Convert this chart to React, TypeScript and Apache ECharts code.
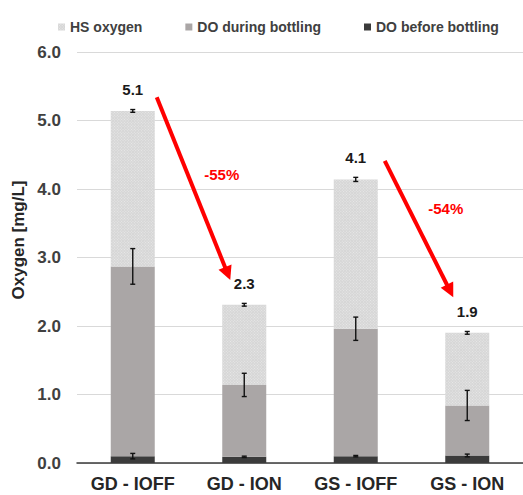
import React, { useEffect, useRef } from 'react';
import * as echarts from 'echarts';

const categories = ['GD - IOFF', 'GD - ION', 'GS - IOFF', 'GS - ION'];
const doBefore = [0.1, 0.09, 0.1, 0.11];
const doDuring = [2.77, 1.05, 1.86, 0.73];
const hsOxygen = [2.27, 1.17, 2.18, 1.06];
const errBefore = [0.04, 0.01, 0.01, 0.02];
const errDuring = [0.26, 0.17, 0.17, 0.22];
const errTotal = [0.02, 0.02, 0.03, 0.02];
const yTicks = [0, 1, 2, 3, 4, 5, 6];
const seriesNames = ['HS oxygen', 'DO during bottling', 'DO before bottling'];
// pairs compared by the red arrows: [from category, to category]
const comparisons = [
  [0, 1],
  [2, 3],
];

const FONT = "'Liberation Sans', Arial, sans-serif";

export default function App() {
  const ref = useRef<HTMLDivElement>(null);

  useEffect(() => {
    if (!ref.current) return;
    const chart = echarts.init(ref.current, undefined, { renderer: 'svg' });

    const topBefore = doBefore.map((v) => v);
    const topDuring = doBefore.map((v, i) => v + doDuring[i]);
    const totals = topDuring.map((v, i) => +(v + hsOxygen[i]).toFixed(2));

    const errData = [
      ...topBefore.map((t, i) => [i, t - errBefore[i], t + errBefore[i]]),
      ...topDuring.map((t, i) => [i, t - errDuring[i], t + errDuring[i]]),
      ...totals.map((t, i) => [i, t - errTotal[i], t + errTotal[i]]),
    ];

    const option: any = {
      animation: false,
      textStyle: { fontFamily: FONT },
      legend: {
        data: seriesNames,
        left: 53,
        top: 15,
        itemWidth: 7,
        itemHeight: 7,
        itemGap: 43,
        icon: 'rect',
        textStyle: { fontFamily: FONT, fontSize: 14, fontWeight: 'bold', color: '#404040' },
      },
      grid: { left: 77, top: 52, width: 448, height: 411 },
      xAxis: {
        type: 'category',
        data: categories,
        axisTick: { show: false },
        axisLine: { lineStyle: { color: '#3a3a3a', width: 1.5 } },
        axisLabel: { margin: 12, fontFamily: FONT, fontSize: 18, fontWeight: 'bold', color: '#262626' },
      },
      yAxis: {
        type: 'value',
        min: yTicks[0],
        max: yTicks[yTicks.length - 1],
        interval: 1,
        axisLabel: {
          margin: 16,
          fontFamily: FONT,
          fontSize: 17,
          fontWeight: 'bold',
          color: '#404040',
          formatter: (v: number) => v.toFixed(1),
        },
        splitLine: { lineStyle: { color: '#d9d9d9', width: 1 } },
        axisLine: { show: false },
        axisTick: { show: false },
      },
      series: [
        {
          name: 'DO before bottling',
          type: 'bar',
          stack: 'o2',
          barWidth: 44,
          data: doBefore,
          itemStyle: { color: '#3b3b3b' },
        },
        {
          name: 'DO during bottling',
          type: 'bar',
          stack: 'o2',
          barWidth: 44,
          data: doDuring,
          itemStyle: { color: '#aaa6a6' },
        },
        {
          name: 'HS oxygen',
          type: 'bar',
          stack: 'o2',
          barWidth: 44,
          data: hsOxygen,
          itemStyle: {
            color: '#d6d6d6',
            decal: {
              symbol: 'rect',
              symbolSize: 1,
              dashArrayX: [1, 1],
              dashArrayY: [1, 1],
              rotation: Math.PI / 4,
              color: 'rgba(255,255,255,0.45)',
            },
          },
          label: {
            show: true,
            position: 'top',
            distance: 14,
            fontFamily: FONT,
            fontSize: 15,
            fontWeight: 'bold',
            color: '#1a1a1a',
            formatter: (p: any) => totals[p.dataIndex].toFixed(1),
          },
        },
        {
          name: 'err',
          type: 'custom',
          data: errData,
          encode: { x: 0, y: [1, 2] },
          z: 10,
          renderItem: (params: any, api: any) => {
            const x = api.value(0);
            const lo = api.coord([x, api.value(1)]);
            const hi = api.coord([x, api.value(2)]);
            const w = 2.5;
            const st = { stroke: '#111', lineWidth: 1.4 };
            return {
              type: 'group',
              children: [
                { type: 'line', shape: { x1: hi[0], y1: hi[1], x2: lo[0], y2: lo[1] }, style: st },
                { type: 'line', shape: { x1: hi[0] - w, y1: hi[1], x2: hi[0] + w, y2: hi[1] }, style: st },
                { type: 'line', shape: { x1: lo[0] - w, y1: lo[1], x2: lo[0] + w, y2: lo[1] }, style: st },
              ],
            };
          },
        },
      ],
    };

    chart.setOption(option);

    const px = (c: number, v: number) => chart.convertToPixel({ gridIndex: 0 }, [c, v]) as number[];
    const graphics: any[] = [
      {
        type: 'text',
        x: 18,
        y: 240,
        rotation: Math.PI / 2,
        style: {
          text: 'Oxygen [mg/L]',
          fontFamily: FONT,
          fontSize: 17,
          fontWeight: 'bold',
          fill: '#262626',
          textAlign: 'center',
          textVerticalAlign: 'middle',
        },
      },
    ];

    comparisons.forEach(([a, b], k) => {
      const startDx = k === 0 ? 24 : 29;
      const sVal = totals[a] + (k === 0 ? 0.2 : 0.27);
      const eVal = totals[b] + (k === 0 ? 0.36 : 0.52);
      const s0 = px(a, sVal);
      const e0 = px(b, eVal);
      const s = [s0[0] + startDx, s0[1]];
      const e = [e0[0] - 14, e0[1]];
      const dx = e[0] - s[0];
      const dy = e[1] - s[1];
      const len = Math.hypot(dx, dy);
      const ux = dx / len;
      const uy = dy / len;
      const headLen = 14;
      const halfW = 7;
      const bx = e[0] - ux * headLen;
      const by = e[1] - uy * headLen;
      graphics.push({
        type: 'line',
        shape: { x1: s[0], y1: s[1], x2: bx + ux * 2, y2: by + uy * 2 },
        style: { stroke: '#ff0000', lineWidth: 4 },
        z: 20,
      });
      graphics.push({
        type: 'polygon',
        shape: {
          points: [
            [e[0], e[1]],
            [bx - uy * halfW, by + ux * halfW],
            [bx + uy * halfW, by - ux * halfW],
          ],
        },
        style: { fill: '#ff0000' },
        z: 20,
      });
      const pct = Math.round((totals[b] / totals[a] - 1) * 100);
      const lp = px(a, (sVal + eVal) / 2 + (k === 0 ? 0.2 : 0.3));
      graphics.push({
        type: 'text',
        x: lp[0] + (k === 0 ? 89 : 90),
        y: lp[1],
        style: {
          text: `${pct}%`,
          fontFamily: FONT,
          fontSize: 15,
          fontWeight: 'bold',
          fill: '#ff0000',
          textAlign: 'center',
          textVerticalAlign: 'middle',
        },
        z: 20,
      });
    });

    chart.setOption({ graphic: graphics });

    return () => chart.dispose();
  }, []);

  return (
    <div
      ref={ref}
      style={{ position: 'absolute', left: 0, top: 0, width: 523, height: 495, background: '#fff' }}
    />
  );
}
